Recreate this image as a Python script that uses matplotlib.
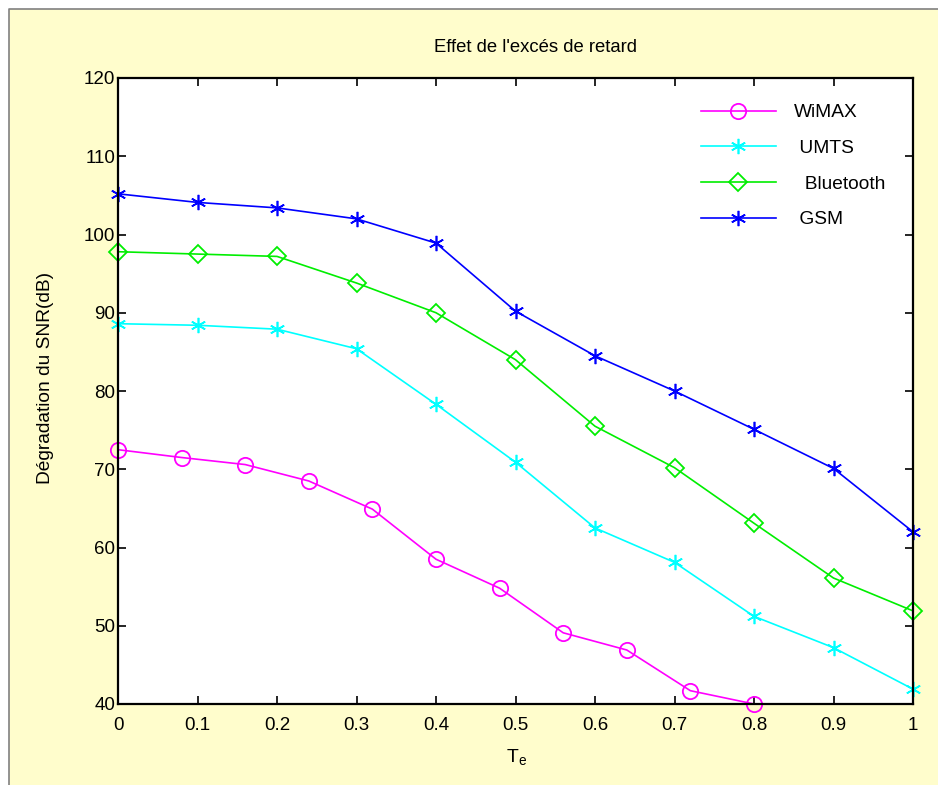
import matplotlib.pyplot as plt
from matplotlib.patches import Rectangle
from matplotlib.lines import Line2D

plt.rcParams['font.family'] = ['Liberation Sans', 'DejaVu Sans']

te = [0, 0.1, 0.2, 0.3, 0.4, 0.5, 0.6, 0.7, 0.8, 0.9, 1.0]
te_wimax = [0, 0.08, 0.16, 0.24, 0.32, 0.40, 0.48, 0.56, 0.64, 0.72, 0.80]

wimax = [72.5, 71.5, 70.6, 68.5, 64.9, 58.5, 54.8, 49.1, 46.9, 41.7, 40.0]
umts = [88.6, 88.4, 87.9, 85.4, 78.3, 70.9, 62.5, 58.1, 51.2, 47.2, 41.9]
bluetooth = [97.8, 97.5, 97.2, 93.8, 90.0, 84.0, 75.5, 70.2, 63.1, 56.1, 51.9]
gsm = [105.2, 104.1, 103.4, 102.0, 98.9, 90.2, 84.5, 80.0, 75.1, 70.1, 62.0]

xticks = [0, 0.1, 0.2, 0.3, 0.4, 0.5, 0.6, 0.7, 0.8, 0.9, 1.0]
xticklabels = ['0', '0.1', '0.2', '0.3', '0.4', '0.5', '0.6', '0.7', '0.8', '0.9', '1']
yticks = [40, 50, 60, 70, 80, 90, 100, 110, 120]

W, H = 938, 785
fig = plt.figure(figsize=(W / 100, H / 100), dpi=100, facecolor='white')
# cream window background, grey edge only on left and top
fig.patches.append(Rectangle((9 / W, 0), 1 - 9 / W, (H - 9) / H, transform=fig.transFigure,
                             facecolor='#fffdcc', edgecolor='none', zorder=-10))
fig.lines.append(Line2D([9 / W, 9 / W, 1], [0, (H - 9) / H, (H - 9) / H], transform=fig.transFigure,
                        color='#808080', linewidth=1.2))

ax = fig.add_axes([118 / W, (H - 704) / H, (913 - 118) / W, (704 - 78) / H])
ax.set_facecolor('white')

star = (6, 2, 0)
ax.plot(te_wimax, wimax, color='#ff00ff', marker='o', markersize=11, markerfacecolor='none',
        markeredgewidth=1.3, linewidth=1.2, label='WiMAX', clip_on=False)
ax.plot(te, umts, color='#00ffff', marker=star, markersize=11, markeredgewidth=1.2,
        linewidth=1.2, label=' UMTS', clip_on=False)
ax.plot(te, bluetooth, color='#00ee00', marker='D', markersize=9, markerfacecolor='none',
        markeredgewidth=1.3, linewidth=1.2, label='  Bluetooth', clip_on=False)
ax.plot(te, gsm, color='#0000ff', marker=star, markersize=11, markeredgewidth=1.2,
        linewidth=1.2, label=' GSM', clip_on=False)

ax.set_xlim(0, 1)
ax.set_ylim(40, 120)
ax.set_xticks(xticks)
ax.set_xticklabels(xticklabels)
ax.set_yticks(yticks)
ax.tick_params(direction='in', length=6, width=1.2, top=True, right=True, labelsize=13.5)
ax.tick_params(axis='x', pad=9)
ax.tick_params(axis='y', pad=2)
for s in ax.spines.values():
    s.set_linewidth(1.6)

fig.text(535 / W, 1 - 48 / H, "Effet de l'excés de retard", ha='center', va='center', fontsize=13.3)
fig.text(517 / W, 1 - 758 / H, 'T$_\\mathregular{e}$', ha='center', va='center', fontsize=14)
fig.text(45 / W, 1 - 378 / H, 'Dégradation du SNR(dB)', ha='center', va='center',
         rotation=90, fontsize=13.8)

ax.legend(loc='upper left', bbox_to_anchor=(701 / W, 1 - 104 / H), bbox_transform=fig.transFigure,
          frameon=False, borderpad=0, borderaxespad=0, handlelength=3.9, handletextpad=0.95,
          labelspacing=0.95, fontsize=13.8)

fig.savefig('out.png', dpi=100, facecolor=fig.get_facecolor())
